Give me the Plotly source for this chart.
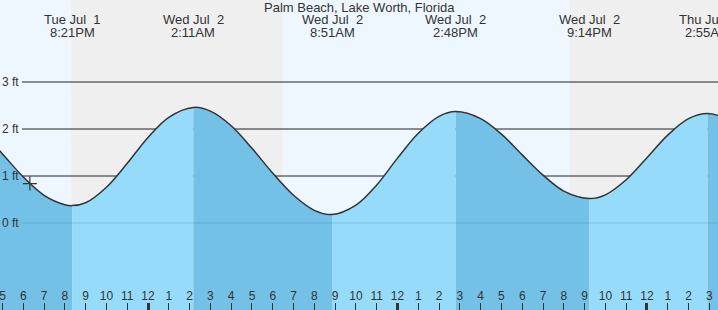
import plotly.graph_objects as go
import pandas as pd

station = "Palm Beach, Lake Worth, Florida"

# Hourly tide heights (ft)
hour_times = [
    "2025-07-01 16:00", "2025-07-01 17:00", "2025-07-01 18:00", "2025-07-01 19:00",
    "2025-07-01 20:00", "2025-07-01 21:00", "2025-07-01 22:00", "2025-07-01 23:00",
    "2025-07-02 00:00", "2025-07-02 01:00", "2025-07-02 03:00", "2025-07-02 04:00",
    "2025-07-02 05:00", "2025-07-02 06:00", "2025-07-02 07:00", "2025-07-02 08:00",
    "2025-07-02 10:00", "2025-07-02 11:00", "2025-07-02 12:00", "2025-07-02 13:00",
    "2025-07-02 14:00", "2025-07-02 16:00", "2025-07-02 17:00", "2025-07-02 18:00",
    "2025-07-02 19:00", "2025-07-02 20:00", "2025-07-02 22:00", "2025-07-02 23:00",
    "2025-07-03 00:00", "2025-07-03 01:00", "2025-07-03 02:00", "2025-07-03 04:00",
]
hour_heights = [
    1.95, 1.47, 0.98, 0.59,
    0.39, 0.43, 0.76, 1.27,
    1.82, 2.25, 2.38, 2.07,
    1.59, 1.06, 0.59, 0.27,
    0.38, 0.81, 1.38, 1.91,
    2.27, 2.22, 1.89, 1.45,
    1.02, 0.68, 0.60, 0.92,
    1.39, 1.87, 2.22, 2.19,
]

# High / low tides
extreme_times = ["2025-07-01 20:21", "2025-07-02 02:11", "2025-07-02 08:51",
                 "2025-07-02 14:48", "2025-07-02 21:14", "2025-07-03 02:55"]
extreme_heights = [0.37, 2.46, 0.18, 2.37, 0.52, 2.33]
extreme_days = ["Tue Jul\u00a0 1", "Wed Jul\u00a0 2", "Wed Jul\u00a0 2",
                "Wed Jul\u00a0 2", "Wed Jul\u00a0 2", "Thu Jul\u00a0 3"]
extreme_clock = ["8:21PM", "2:11AM", "8:51AM", "2:48PM", "9:14PM", "2:55AM"]

# Night periods (sunset, sunrise)
night_starts = ["2025-07-01 20:18", "2025-07-02 20:18"]
night_ends = ["2025-07-02 06:29", "2025-07-03 06:29"]

# Current time marker
now_time = ["2025-07-01 18:19"]
now_height = [0.84]

y_levels = [0, 1, 2, 3]
y_labels = ["0 ft", "1 ft", "2 ft", "3 ft"]
grid_levels = [1, 2, 3]

x_range = ["2025-07-01 16:52:48", "2025-07-03 03:25:00"]
y_range = [-1.851, 4.745]

tick_times = [t.strftime("%Y-%m-%d %H:%M")
              for t in pd.date_range("2025-07-01 17:00", "2025-07-03 03:00", freq="h")]
tick_labels = [str((int(t[11:13]) % 12) or 12) for t in tick_times]
noon_times = [t for t in tick_times if t[11:13] in ("00", "12")]

DAY_BG = "#eef7ff"
NIGHT_BG = "#efefef"
FALL = "#73c1e6"
RISE = "#96dcfa"
TEXT = "#333333"
FONT = "Liberation Sans, Arial, sans-serif"
H = 310

df = pd.DataFrame({
    "t": pd.to_datetime(hour_times + extreme_times),
    "h": hour_heights + extreme_heights,
}).sort_values("t").reset_index(drop=True)

bounds = [df["t"].iloc[0]] + list(pd.to_datetime(extreme_times)) + [df["t"].iloc[-1]]

fig = go.Figure()
BOTTOM = -3
for a, b in zip(bounds[:-1], bounds[1:]):
    seg = df[(df["t"] >= a) & (df["t"] <= b)]
    if len(seg) < 2:
        continue
    color = FALL if seg["h"].iloc[0] > seg["h"].iloc[-1] else RISE
    fig.add_trace(go.Scatter(x=[seg["t"].iloc[0], seg["t"].iloc[-1]], y=[BOTTOM, BOTTOM],
                             mode="lines", line=dict(width=0), hoverinfo="skip",
                             showlegend=False))
    fig.add_trace(go.Scatter(x=seg["t"], y=seg["h"], mode="lines",
                             line=dict(width=0, shape="spline"), fill="tonexty",
                             fillcolor=color, hoverinfo="skip", showlegend=False))

fig.add_trace(go.Scatter(x=df["t"], y=df["h"], mode="lines",
                         line=dict(color=TEXT, width=1.5, shape="spline"),
                         showlegend=False))

fig.add_trace(go.Scatter(x=pd.to_datetime(now_time), y=now_height, mode="markers",
                         marker=dict(symbol="cross-thin", size=10,
                                     line=dict(color=TEXT, width=1.2)),
                         showlegend=False))

# invisible trace for the bold noon/midnight tick axis
fig.add_trace(go.Scatter(x=[noon_times[0]], y=[0], xaxis="x2", mode="markers",
                         marker=dict(opacity=0), showlegend=False, hoverinfo="skip"))

shapes = []
for s, e in zip(night_starts, night_ends):
    shapes.append(dict(type="rect", xref="x", yref="paper", x0=s, x1=e, y0=0, y1=1,
                       fillcolor=NIGHT_BG, line=dict(width=0), layer="below"))
for lv in grid_levels:
    shapes.append(dict(type="line", xref="paper", yref="y", x0=22 / 718, x1=1, y0=lv, y1=lv,
                       line=dict(color="#222222", width=1), layer="below"))
shapes.append(dict(type="line", xref="paper", yref="y", x0=22 / 718, x1=1, y0=0, y1=0,
                   line=dict(color="rgba(40,90,130,0.22)", width=1), layer="above"))

annotations = [dict(text=station, xref="paper", yref="paper", x=0.5, y=1 - 7.5 / H,
                    xanchor="center", yanchor="middle", showarrow=False,
                    font=dict(size=13, color=TEXT, family=FONT))]
for t, d, c in zip(extreme_times, extreme_days, extreme_clock):
    annotations.append(dict(text=d, xref="x", yref="paper", x=t, y=1 - 19.5 / H,
                            xanchor="center", yanchor="middle", showarrow=False,
                            font=dict(size=13, color=TEXT, family=FONT)))
    annotations.append(dict(text=c, xref="x", yref="paper", x=t, y=1 - 32.5 / H,
                            xanchor="center", yanchor="middle", showarrow=False,
                            font=dict(size=13, color=TEXT, family=FONT)))

axis_pos = 8 / H  # hour axis line sits 8px above the bottom edge
fig.update_layout(
    width=718, height=H, margin=dict(l=0, r=0, t=0, b=0),
    paper_bgcolor=DAY_BG, plot_bgcolor=DAY_BG,
    font=dict(family=FONT, color=TEXT, size=12),
    shapes=shapes, annotations=annotations,
    xaxis=dict(type="date", range=x_range, tickmode="array",
               tickvals=tick_times, ticktext=tick_labels,
               anchor="free", position=axis_pos, side="top",
               ticks="inside", ticklen=8, tickwidth=1, tickcolor=TEXT,
               ticklabelposition="outside", ticklabeloverflow="allow",
               showgrid=False, zeroline=False,
               showline=False, tickfont=dict(size=12, color=TEXT, family=FONT)),
    xaxis2=dict(type="date", range=x_range, overlaying="x", anchor="free",
                position=axis_pos, side="top", tickmode="array",
                tickvals=noon_times, ticks="inside", ticklen=8, tickwidth=3,
                tickcolor=TEXT, showticklabels=False, showgrid=False,
                zeroline=False, showline=False),
    yaxis=dict(range=y_range, tickvals=y_levels, ticktext=y_labels, ticks="",
               side="right", anchor="free", position=0,
               ticklabelposition="outside", ticklabelstandoff=1,
               showgrid=False, zeroline=False,
               showline=False, tickfont=dict(size=12, color=TEXT, family=FONT)),
    hovermode=False,
)

fig.write_html("out.html")
